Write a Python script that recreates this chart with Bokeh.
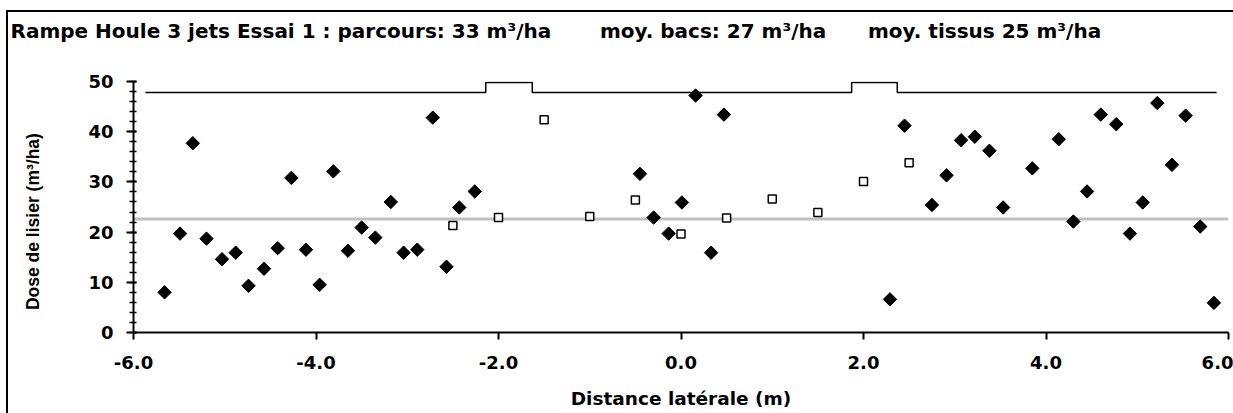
import math

from bokeh.plotting import figure
from bokeh.models import Range1d, SingleIntervalTicker, NumeralTickFormatter, Title
from bokeh.embed import file_html
from bokeh.resources import INLINE

# Dose measured on the cloth samples ("tissus"), m3/ha, along the lateral distance (m)
tissus_x = [-5.66, -5.49, -5.35, -5.20, -5.03, -4.88, -4.74, -4.57, -4.42, -4.27,
            -4.11, -3.96, -3.81, -3.65, -3.50, -3.35, -3.18, -3.04, -2.89, -2.72,
            -2.57, -2.43, -2.26, -0.45, -0.30, -0.135, 0.01, 0.16, 0.33, 0.47,
            2.29, 2.45, 2.75, 2.91, 3.07, 3.22, 3.38, 3.53, 3.85, 4.14,
            4.30, 4.45, 4.60, 4.77, 4.92, 5.06, 5.22, 5.38, 5.53, 5.69, 5.84]
tissus_y = [8.0, 19.7, 37.7, 18.7, 14.6, 15.9, 9.3, 12.7, 16.8, 30.8,
            16.5, 9.5, 32.1, 16.3, 20.9, 18.9, 26.0, 15.9, 16.5, 42.8,
            13.1, 24.9, 28.1, 31.6, 22.9, 19.7, 25.9, 47.2, 15.9, 43.4,
            6.6, 41.2, 25.4, 31.3, 38.3, 39.0, 36.2, 24.9, 32.7, 38.5,
            22.1, 28.1, 43.4, 41.5, 19.7, 25.9, 45.7, 33.4, 43.2, 21.1, 5.9]

# Dose collected in the trays ("bacs")
bacs_x = [-2.5, -2.0, -1.5, -1.0, -0.5, 0.0, 0.5, 1.0, 1.5, 2.0, 2.5]
bacs_y = [21.3, 22.9, 42.4, 23.1, 26.4, 19.6, 22.8, 26.6, 23.9, 30.1, 33.8]

# Boom outline drawn above the data (the three jets' supports)
rampe_x = [-5.87, -2.14, -2.14, -1.63, -1.63, 1.87, 1.87, 2.37, 2.37, 5.87]
rampe_y = [47.8, 47.8, 49.8, 49.8, 47.8, 47.8, 49.8, 49.8, 47.8, 47.8]

# Reference dose level
ref_x = [-6.0, 6.0]
ref_y = [22.6, 22.6]

title_parts = ["Rampe Houle 3 jets Essai 1 : parcours: 33 m\u00b3/ha",
               "moy. bacs: 27 m\u00b3/ha",
               "moy. tissus 25 m\u00b3/ha"]
x_title = "Distance lat\u00e9rale (m)"
y_title = "Dose de lisier (m\u00b3/ha)"

NB = "\u00a0"
FONT = "DejaVu Sans"

p = figure(width=1233, height=413, output_backend="svg", toolbar_location=None,
           x_range=Range1d(-6.0, 6.0), y_range=Range1d(0.0, 50.0),
           min_border_left=133, min_border_right=5,
           min_border_top=81, min_border_bottom=81)
# chart area: left and top edges painted behind a transparent canvas border
p.border_fill_color = None
p.styles = {"background": "linear-gradient(#000, #000) 6px 10px / 2px 403px no-repeat, "
                          "linear-gradient(#000, #000) 6px 10px / 1227px 2px no-repeat, "
                          "#fff"}
p.title_location = None
p.outline_line_color = None
p.xgrid.visible = False
p.ygrid.visible = False
p.background_fill_color = "white"

# blank band between the plot area and the title line
p.add_layout(Title(text=NB, text_font=FONT, text_font_size="20px", standoff=8),
             "above")
# title: three statements on one line
p.add_layout(Title(text=title_parts[0] + NB * 7 + title_parts[1] + NB * 6 + title_parts[2],
                   text_font=FONT, text_font_style="bold", text_font_size="20px",
                   text_color="black", align="left", offset=-123, standoff=10),
             "above")

for ax in (p.xaxis[0], p.yaxis[0]):
    ax.axis_line_width = 2
    ax.axis_line_color = "black"
    ax.major_tick_line_width = 2
    ax.major_tick_line_color = "black"
    ax.minor_tick_line_width = 1.5
    ax.minor_tick_line_color = "black"
    ax.major_label_text_font = FONT
    ax.major_label_text_font_style = "bold"
    ax.major_label_text_font_size = "18px"
    ax.major_label_text_color = "black"
    ax.axis_label_text_font_style = "bold"
    ax.axis_label_text_color = "black"

p.xaxis.ticker = SingleIntervalTicker(interval=2, num_minor_ticks=0)
p.xaxis.formatter = NumeralTickFormatter(format="0.0")
p.xaxis.major_tick_out = 7
p.xaxis.major_tick_in = 0
p.xaxis.major_label_standoff = 16
p.xaxis.axis_label = x_title
p.xaxis.axis_label_text_font = FONT
p.xaxis.axis_label_text_font_size = "18.5px"
p.xaxis.axis_label_standoff = 16

p.yaxis.ticker = SingleIntervalTicker(interval=10, num_minor_ticks=5)
p.yaxis.major_tick_out = 7
p.yaxis.major_tick_in = 3
p.yaxis.minor_tick_out = 4
p.yaxis.minor_tick_in = 3
p.yaxis.major_label_standoff = 13
p.yaxis.axis_label = y_title + NB * 6
p.yaxis.axis_label_text_font = "Liberation Sans"
p.yaxis.axis_label_text_font_size = "17.5px"
p.yaxis.axis_label_standoff = 42

# reference level and boom outline
p.line(ref_x, ref_y, line_color="#bfbfbf", line_width=3)
p.line(rampe_x, rampe_y, line_color="black", line_width=1.5)

# measurements
p.scatter(tissus_x, tissus_y, marker="square", angle=math.pi / 4, size=9.5,
          fill_color="black", line_color="black", line_width=1)
p.scatter(bacs_x, bacs_y, marker="square", size=8, fill_color="white",
          line_color="black", line_width=1.5)

open("out.html", "w").write(file_html(p, INLINE))
